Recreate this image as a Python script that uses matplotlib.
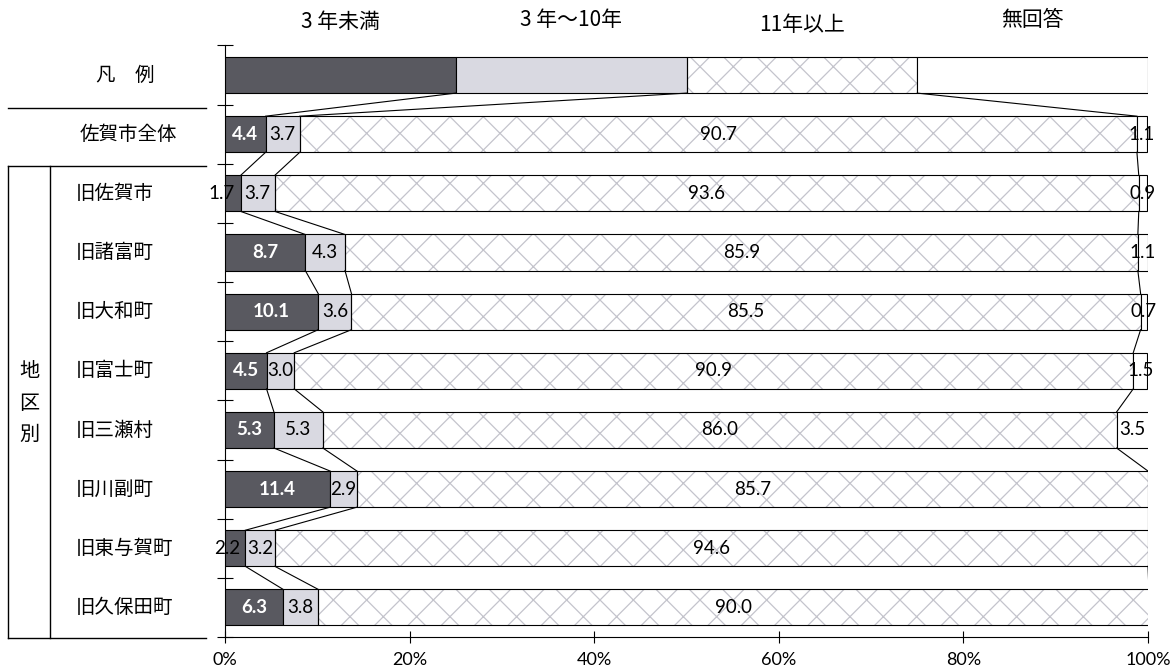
import numpy as np
import matplotlib.pyplot as plt
from matplotlib.transforms import blended_transform_factory

# data
rows = ['佐賀市全体', '旧佐賀市', '旧諸富町', '旧大和町', '旧富士町',
        '旧三瀬村', '旧川副町', '旧東与賀町', '旧久保田町']
series_names = ['3 年未満', '3 年～10年', '11年以上', '無回答']
under3 = [4.4, 1.7, 8.7, 10.1, 4.5, 5.3, 11.4, 2.2, 6.3]
y3to10 = [3.7, 3.7, 4.3, 3.6, 3.0, 5.3, 2.9, 3.2, 3.8]
over11 = [90.7, 93.6, 85.9, 85.5, 90.9, 86.0, 85.7, 94.6, 90.0]
no_ans = [1.1, 0.9, 1.1, 0.7, 1.5, 3.5, 0.0, 0.0, 0.0]
legend_vals = [25, 25, 25, 25]
xticks = [0, 20, 40, 60, 80, 100]

JP = 'Noto Sans CJK JP'
NUM = ['Lato', 'Noto Sans CJK JP']

colors = ['#595960', '#d9d9e1', 'white', 'white']
hatch_col = '#c4c4cc'
plt.rcParams['hatch.linewidth'] = 0.9

vals = np.array([legend_vals] + [list(r) for r in zip(under3, y3to10, over11, no_ans)])
cum = np.cumsum(vals, axis=1)
left = cum - vals
n = len(vals)
ypos = np.arange(n)
h = 0.61

fig = plt.figure(figsize=(11.73, 6.7), dpi=100)
ax = fig.add_axes([225 / 1173, 1 - 637 / 670, 923 / 1173, (637 - 45.5) / 670])

for k in range(4):
    w = vals[:, k]
    m = w > 0
    if k == 2:
        ax.barh(ypos[m], w[m], left=left[m, k], height=h, color='white',
                edgecolor=hatch_col, hatch='x', linewidth=0, zorder=2)
        ax.barh(ypos[m], w[m], left=left[m, k], height=h, fill=False,
                edgecolor='black', linewidth=0.8, zorder=3)
    else:
        ax.barh(ypos[m], w[m], left=left[m, k], height=h, color=colors[k],
                edgecolor='black', linewidth=0.8, zorder=3)

# series lines between bars
for i in range(n - 1):
    for k in range(3):
        ax.plot([cum[i, k], cum[i + 1, k]], [i + h / 2, i + 1 - h / 2],
                color='black', lw=0.8, zorder=4)

# value labels
fs = 13.5
for i in range(1, n):
    for k in range(4):
        v = vals[i, k]
        if v <= 0:
            continue
        cx = left[i, k] + v / 2
        if k == 0:
            if v < 3:
                ax.text(cum[i, k] - 0.6, i, f'{v:.1f}', ha='right', va='center',
                        fontsize=fs, family=NUM, color='black', zorder=6)
            else:
                ax.text(cx, i, f'{v:.1f}', ha='center', va='center', fontsize=fs,
                        family=NUM, color='white', fontweight='bold', zorder=6)
        else:
            ax.text(cx, i, f'{v:.1f}', ha='center', va='center', fontsize=fs,
                    family=NUM, color='black', zorder=6)

# series names above legend bar
name_y = [-0.9, -0.93, -0.84, -0.93]
for k, name in enumerate(series_names):
    ax.text(left[0, k] + vals[0, k] / 2, name_y[k], name, ha='center', va='center',
            fontsize=15, family=JP, clip_on=False)

ax.set_xlim(0, 100)
ax.set_ylim(n - 0.5, -0.5)
ax.set_xticks(xticks)
ax.set_xticklabels([f'{t}%' for t in xticks])
for lab in ax.get_xticklabels():
    lab.set_fontsize(13)
    lab.set_family(NUM)
ax.set_yticks(np.arange(-0.5, n, 1))
ax.set_yticklabels([])
ax.tick_params(axis='y', direction='inout', length=11, width=0.8)
ax.tick_params(axis='x', direction='inout', length=8, width=0.8, pad=7)
for s in ['top', 'right']:
    ax.spines[s].set_visible(False)
for s in ['left', 'bottom']:
    ax.spines[s].set_linewidth(0.8)

# left side table
tr = blended_transform_factory(fig.transFigure, ax.transData)
W, H = 1173, 670
ax.text(125 / W, 0, '凡　例', transform=tr, ha='center', va='center',
        fontsize=14, family=JP, clip_on=False)
ax.text(128 / W, 1, rows[0], transform=tr, ha='center', va='center',
        fontsize=14, family=JP, clip_on=False)
for i, name in enumerate(rows[1:], start=2):
    ax.text(76 / W, i, name, transform=tr, ha='left', va='center',
            fontsize=14, family=JP, clip_on=False)
fig.text(29 / W, 1 - 403 / H, '地\n区\n別', ha='center', va='center',
         fontsize=14.5, family=JP, linespacing=1.65)

def hline(x0, x1, y):
    fig.add_artist(plt.Line2D([x0 / W, x1 / W], [1 - y / H, 1 - y / H],
                              color='black', lw=1.0))

def vline(x, y0, y1):
    fig.add_artist(plt.Line2D([x / W, x / W], [1 - y0 / H, 1 - y1 / H],
                              color='black', lw=1.0))

hline(8, 206, 108)
hline(8, 206, 166)
hline(8, 206, 638)
vline(8, 166, 638)
vline(50, 166, 638)

fig.savefig('out.png', dpi=100)
